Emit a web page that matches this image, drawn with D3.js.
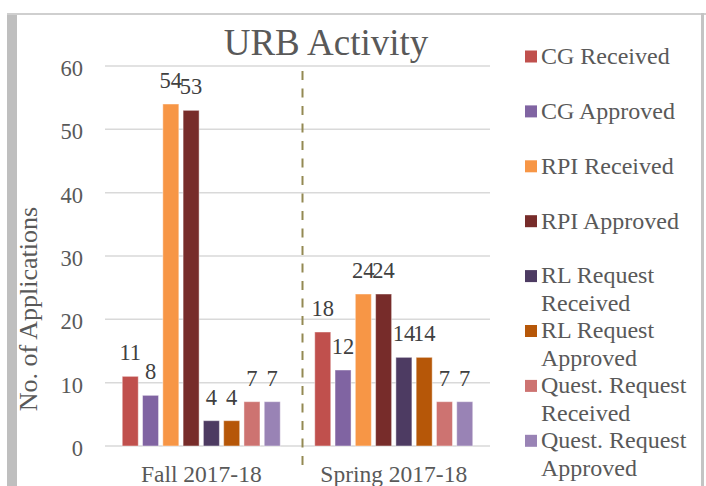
<!DOCTYPE html>
<html>
<head>
<meta charset="utf-8">
<script src="https://d3js.org/d3.v7.min.js"></script>
<style>
  html, body { margin: 0; padding: 0; background: #ffffff; }
  svg { display: block; font-family: "Liberation Serif", "Times New Roman", serif; }
</style>
</head>
<body>
<svg id="chart" width="706" height="486"></svg>
<script>
// chart data
var categories = ["Fall 2017-18", "Spring 2017-18"];
var seriesNames = ["CG Received", "CG Approved", "RPI Received", "RPI Approved",
  "RL Request Received", "RL Request Approved", "Quest. Request Received", "Quest. Request Approved"];
var legendLines = [["CG Received"], ["CG Approved"], ["RPI Received"], ["RPI Approved"],
  ["RL Request", "Received"], ["RL Request", "Approved"], ["Quest. Request", "Received"], ["Quest. Request", "Approved"]];
var fallValues = [11, 8, 54, 53, 4, 4, 7, 7];
var springValues = [18, 12, 24, 24, 14, 14, 7, 7];
var seriesColors = ["#C0504D", "#8064A2", "#F79646", "#772C2A", "#4D3B62", "#B65708", "#CD7371", "#9983B5"];
var yTicks = [0, 10, 20, 30, 40, 50, 60];

var svg;

document.addEventListener('DOMContentLoaded', function () {
  svg = d3.select('#chart');
  drawChart();
});

function drawChart() {
  // frame round the chart
  svg.append("rect").attr("x", 7).attr("y", 13).attr("width", 10).attr("height", 473).attr("fill", "#BFBFBF");
  svg.append("rect").attr("x", 7).attr("y", 13).attr("width", 699).attr("height", 2).attr("fill", "#CFCFCF");
  svg.append("rect").attr("x", 701).attr("y", 13).attr("width", 3).attr("height", 473).attr("fill", "#C4C4C4");

  let x0 = d3.scaleBand().domain(categories).range([105, 490]);
  let x1 = d3.scaleBand().domain(seriesNames).range([0, x0.bandwidth()])
    .paddingInner(0.21).paddingOuter(0.85);
  let y = d3.scaleLinear().domain([0, 60]).range([446, 66]);

  // gridlines
  svg.append("g").selectAll("line")
    .data(yTicks)
    .enter()
    .append("line")
    .attr("x1", 105).attr("x2", 490)
    .attr("y1", (d) => y(d)).attr("y2", (d) => y(d))
    .attr("stroke", "#D9D9D9")
    .attr("stroke-width", 1.5);

  // y axis labels
  let yAxis = d3.axisLeft(y).tickValues(yTicks).tickSize(0).tickPadding(0);
  let yg = svg.append("g").attr("transform", "translate(83,0)").call(yAxis);
  yg.select(".domain").remove();
  yg.selectAll("text")
    .attr("font-family", "Liberation Serif")
    .attr("font-size", 22.5)
    .attr("fill", "#595959")
    .attr("dy", "0.42em");

  // x axis labels
  let xAxis = d3.axisBottom(x0).tickSize(0).tickPadding(0);
  let xg = svg.append("g").attr("transform", "translate(0,464)").call(xAxis);
  xg.select(".domain").remove();
  xg.selectAll("text")
    .attr("font-family", "Liberation Serif")
    .attr("font-size", 23.5)
    .attr("fill", "#595959")
    .attr("dy", "0.75em");

  // separator between the two terms
  svg.append("line")
    .attr("x1", x0("Spring 2017-18") + 5).attr("x2", x0("Spring 2017-18") + 5)
    .attr("y1", 71).attr("y2", 469)
    .attr("stroke", "#938953")
    .attr("stroke-width", 2)
    .attr("stroke-dasharray", "9,8.5");

  let rows = [fallValues, springValues];
  let groups = svg.append("g").selectAll("g")
    .data(categories)
    .enter()
    .append("g")
    .attr("transform", (d) => "translate(" + x0(d) + ",0)");

  groups.selectAll("rect")
    .data((d, i) => rows[i].map((v, j) => ({ name: seriesNames[j], value: v, color: seriesColors[j] })))
    .enter()
    .append("rect")
    .attr("x", (d) => x1(d.name))
    .attr("y", (d) => y(d.value))
    .attr("width", x1.bandwidth())
    .attr("height", (d) => y(0) - y(d.value))
    .attr("fill", (d) => d.color)
    .attr("stroke", "#ffffff")
    .attr("stroke-opacity", 0.45)
    .attr("stroke-width", 1);

  // data labels
  groups.selectAll("text")
    .data((d, i) => rows[i].map((v, j) => ({ name: seriesNames[j], value: v })))
    .enter()
    .append("text")
    .attr("x", (d) => x1(d.name) + x1.bandwidth() / 2)
    .attr("y", (d) => y(d.value) - 16)
    .attr("text-anchor", "middle")
    .attr("font-size", 22.5)
    .attr("fill", "#404040")
    .text((d) => d.value);

  // title
  svg.append("text")
    .attr("x", 326).attr("y", 55)
    .attr("text-anchor", "middle")
    .attr("font-size", 37)
    .attr("fill", "#595959")
    .text("URB Activity");

  // y axis title
  svg.append("text")
    .attr("transform", "translate(36.5,309) rotate(-90)")
    .attr("text-anchor", "middle")
    .attr("font-size", 26)
    .attr("fill", "#595959")
    .text("No. of Applications");

  // legend
  let legend = svg.append("g").selectAll("g")
    .data(seriesNames)
    .enter()
    .append("g")
    .attr("transform", (d, i) => "translate(525," + (56.5 + i * 54.9) + ")");

  legend.append("rect")
    .attr("x", 0).attr("y", -6)
    .attr("width", 12).attr("height", 12)
    .attr("fill", (d, i) => seriesColors[i]);

  legend.append("text")
    .attr("x", 16).attr("y", 7.3)
    .attr("font-size", 24)
    .attr("fill", "#595959")
    .selectAll("tspan")
    .data((d, i) => legendLines[i])
    .enter()
    .append("tspan")
    .attr("x", 16)
    .attr("dy", (d, k) => k == 0 ? 0 : 28)
    .text((d) => d);
}
</script>
</body>
</html>
